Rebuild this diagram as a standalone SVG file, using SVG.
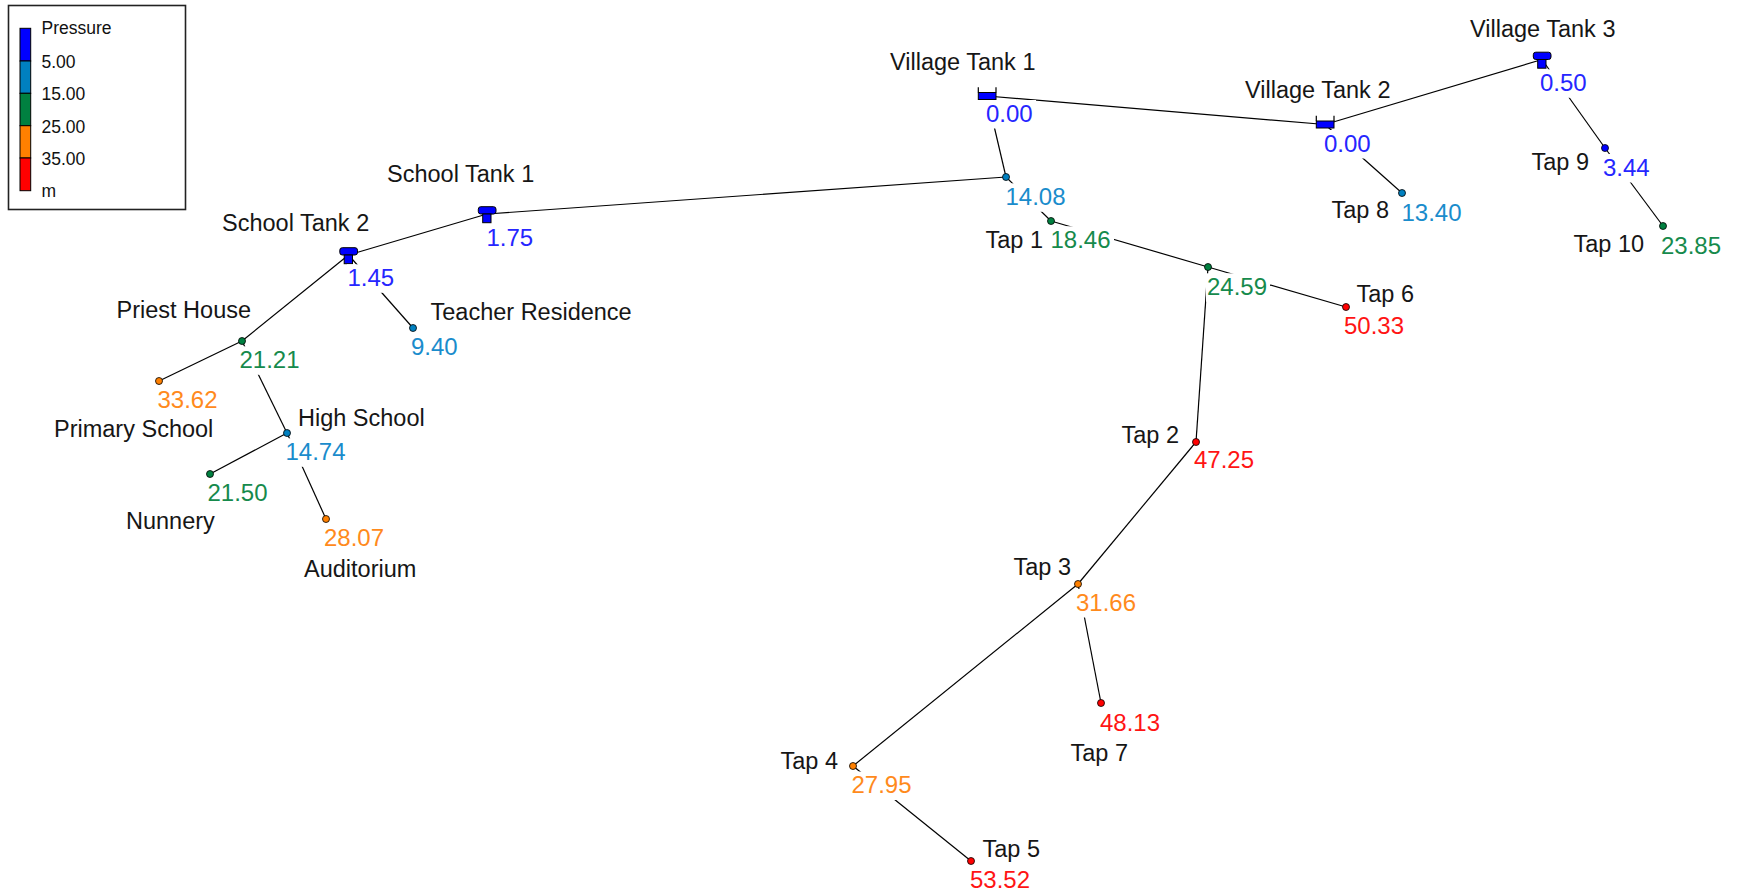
<svg xmlns="http://www.w3.org/2000/svg" xmlns:xlink="http://www.w3.org/1999/xlink" width="1738" height="895" viewBox="0 0 1738 895">
<style>
text{font-family:"Liberation Sans",Arial,sans-serif;}
.nm{font-size:23.5px;fill:#161616;}
.v{font-size:24px;}
.lg{font-size:17.5px;fill:#111;}
.bg{fill:#fff;}
.ln{stroke:#000;stroke-width:1.2;fill:none;}
.dot{stroke:#000;stroke-width:0.8;}
.cB{fill:#0000FF;} .cL{fill:#0080C0;} .cG{fill:#008040;} .cO{fill:#FF8000;} .cR{fill:#FF0000;}
.tB{fill:#2626FF;} .tL{fill:#1A8CCC;} .tG{fill:#168A4C;} .tO{fill:#FF8A1C;} .tR{fill:#FF1414;}
</style>
<defs>
<g id="tank">
<rect x="-8.7" y="-7.3" width="17.7" height="7.3" rx="2.5" fill="#0000FF" stroke="#000" stroke-width="1"/>
<rect x="-4.3" y="0" width="8.3" height="8.7" fill="#0000FF" stroke="#000" stroke-width="1"/>
</g>
<g id="res">
<rect x="-8.7" y="-3.5" width="17.7" height="7" fill="#0000FF" stroke="#000" stroke-width="1"/>
<path d="M-8.7,-8.7V-3.5M9,-8.7V-3.5" stroke="#000" stroke-width="1.2"/>
</g>
</defs>
<rect width="1738" height="895" fill="#fff"/>

<g id="legend">
<rect x="8.5" y="5.5" width="177" height="204" fill="#fff" stroke="#222" stroke-width="1.6"/>
<rect x="20" y="28.3" width="10.7" height="32.7" fill="#0000FF" stroke="#000" stroke-width="1"/>
<rect x="20" y="61" width="10.7" height="32.3" fill="#0080C0" stroke="#000" stroke-width="1"/>
<rect x="20" y="93.3" width="10.7" height="32.4" fill="#008040" stroke="#000" stroke-width="1"/>
<rect x="20" y="125.7" width="10.7" height="32.3" fill="#FF8000" stroke="#000" stroke-width="1"/>
<rect x="20" y="158" width="10.7" height="32.7" fill="#FF0000" stroke="#000" stroke-width="1"/>
<text class="lg" x="41.5" y="34">Pressure</text>
<text class="lg" x="41.5" y="68">5.00</text>
<text class="lg" x="41.5" y="100">15.00</text>
<text class="lg" x="41.5" y="133">25.00</text>
<text class="lg" x="41.5" y="165">35.00</text>
<text class="lg" x="41.5" y="197">m</text>
</g>

<g id="connectors">
<line class="ln" x1="987" y1="96" x2="1325" y2="124.5"/>
<line class="ln" x1="1325" y1="124.5" x2="1542" y2="59.5"/>
<line class="ln" x1="987" y1="96" x2="1006" y2="177"/>
<line class="ln" x1="487" y1="214" x2="1006" y2="177"/>
<line class="ln" x1="348.5" y1="255" x2="487" y2="214"/>
<line class="ln" x1="1006" y1="177" x2="1051" y2="221"/>
<line class="ln" x1="1051" y1="221" x2="1208" y2="267"/>
<line class="ln" x1="1208" y1="267" x2="1346" y2="307"/>
<line class="ln" x1="1208" y1="267" x2="1196" y2="442"/>
<line class="ln" x1="1196" y1="442" x2="1078" y2="584"/>
<line class="ln" x1="1078" y1="584" x2="1101" y2="703"/>
<line class="ln" x1="1078" y1="584" x2="853" y2="766"/>
<line class="ln" x1="853" y1="766" x2="971" y2="861"/>
<line class="ln" x1="1325" y1="124.5" x2="1402" y2="193"/>
<line class="ln" x1="1542" y1="59.5" x2="1605" y2="148"/>
<line class="ln" x1="1605" y1="148" x2="1663" y2="226"/>
<line class="ln" x1="348.5" y1="255" x2="242" y2="341"/>
<line class="ln" x1="348.5" y1="255" x2="413" y2="328"/>
<line class="ln" x1="242" y1="341" x2="159" y2="381"/>
<line class="ln" x1="242" y1="341" x2="287" y2="433"/>
<line class="ln" x1="287" y1="433" x2="210" y2="474"/>
<line class="ln" x1="287" y1="433" x2="326" y2="519"/>
</g>

<g id="village-tank-1">
<use xlink:href="#res" href="#res" x="987" y="96"/>
<text class="nm" x="890" y="70">Village Tank 1</text>
<rect class="bg" x="985" y="100" width="51" height="28.5"/>
<text class="v tB" x="986" y="121.7">0.00</text>
</g>
<g id="village-tank-2">
<use xlink:href="#res" href="#res" x="1325" y="124.5"/>
<text class="nm" x="1245" y="98">Village Tank 2</text>
<rect class="bg" x="1323" y="130" width="51" height="28.5"/>
<text class="v tB" x="1324" y="151.7">0.00</text>
</g>
<g id="village-tank-3">
<use xlink:href="#tank" href="#tank" x="1542" y="59.5"/>
<text class="nm" x="1470" y="36.7">Village Tank 3</text>
<rect class="bg" x="1539" y="69.3" width="51" height="28.5"/>
<text class="v tB" x="1540" y="91">0.50</text>
</g>
<g id="school-tank-1">
<use xlink:href="#tank" href="#tank" x="487" y="214"/>
<text class="nm" x="387" y="181.7">School Tank 1</text>
<rect class="bg" x="486" y="224" width="51" height="28.5"/>
<text class="v tB" x="486.5" y="245.7">1.75</text>
</g>
<g id="school-tank-2">
<use xlink:href="#tank" href="#tank" x="348.5" y="255"/>
<text class="nm" x="222" y="231">School Tank 2</text>
<rect class="bg" x="347" y="264.3" width="51" height="28.5"/>
<text class="v tB" x="347.5" y="286">1.45</text>
</g>
<g id="junction-1">
<circle class="dot cL" cx="1006" cy="177" r="3.5"/>
<rect class="bg" x="1004" y="183.3" width="64" height="28.5"/>
<text class="v tL" x="1005.5" y="205">14.08</text>
</g>
<g id="tap-1">
<circle class="dot cG" cx="1051" cy="221" r="3.5"/>
<text class="nm" x="985.5" y="248">Tap 1</text>
<rect class="bg" x="1050" y="226.3" width="64" height="28.5"/>
<text class="v tG" x="1050.5" y="248">18.46</text>
</g>
<g id="junction-2">
<circle class="dot cG" cx="1208" cy="267" r="3.5"/>
<rect class="bg" x="1206" y="273.3" width="64" height="28.5"/>
<text class="v tG" x="1207" y="295">24.59</text>
</g>
<g id="tap-6">
<circle class="dot cR" cx="1346" cy="307" r="3.5"/>
<text class="nm" x="1356.5" y="302">Tap 6</text>
<rect class="bg" x="1343" y="312.3" width="64" height="28.5"/>
<text class="v tR" x="1344" y="334">50.33</text>
</g>
<g id="tap-2">
<circle class="dot cR" cx="1196" cy="442" r="3.5"/>
<text class="nm" x="1121.5" y="443">Tap 2</text>
<rect class="bg" x="1193" y="446.3" width="64" height="28.5"/>
<text class="v tR" x="1194" y="468">47.25</text>
</g>
<g id="tap-3">
<circle class="dot cO" cx="1078" cy="584" r="3.5"/>
<text class="nm" x="1013.5" y="575">Tap 3</text>
<rect class="bg" x="1075" y="589" width="64" height="28.5"/>
<text class="v tO" x="1076" y="610.7">31.66</text>
</g>
<g id="tap-7">
<circle class="dot cR" cx="1101" cy="703" r="3.5"/>
<rect class="bg" x="1099" y="709" width="64" height="28.5"/>
<text class="v tR" x="1100" y="730.7">48.13</text>
<text class="nm" x="1070.5" y="761">Tap 7</text>
</g>
<g id="tap-4">
<circle class="dot cO" cx="853" cy="766" r="3.5"/>
<text class="nm" x="780.5" y="769">Tap 4</text>
<rect class="bg" x="850.5" y="771.5" width="64" height="28.5"/>
<text class="v tO" x="851.5" y="793.3">27.95</text>
</g>
<g id="tap-5">
<circle class="dot cR" cx="971" cy="861" r="3.5"/>
<text class="nm" x="982.5" y="857">Tap 5</text>
<text class="v tR" x="970" y="887.7">53.52</text>
</g>
<g id="tap-8">
<circle class="dot cL" cx="1402" cy="193" r="3.5"/>
<text class="nm" x="1331.5" y="218">Tap 8</text>
<rect class="bg" x="1400" y="199" width="64" height="28.5"/>
<text class="v tL" x="1401.5" y="220.7">13.40</text>
</g>
<g id="tap-9">
<circle class="dot cB" cx="1605" cy="148" r="3.5"/>
<text class="nm" x="1531.5" y="170">Tap 9</text>
<rect class="bg" x="1602" y="154" width="51" height="28.5"/>
<text class="v tB" x="1603" y="175.7">3.44</text>
</g>
<g id="tap-10">
<circle class="dot cG" cx="1663" cy="226" r="3.5"/>
<text class="nm" x="1573.5" y="252">Tap 10</text>
<rect class="bg" x="1660" y="232.3" width="64" height="28.5"/>
<text class="v tG" x="1661" y="254">23.85</text>
</g>
<g id="priest-house">
<circle class="dot cG" cx="242" cy="341" r="3.5"/>
<text class="nm" x="116.5" y="318.3">Priest House</text>
<rect class="bg" x="238" y="346.3" width="64" height="28.5"/>
<text class="v tG" x="239.5" y="368">21.21</text>
</g>
<g id="primary-school">
<circle class="dot cO" cx="159" cy="381" r="3.5"/>
<rect class="bg" x="156" y="386.3" width="64" height="28.5"/>
<text class="v tO" x="157.5" y="408">33.62</text>
<text class="nm" x="54" y="437">Primary School</text>
</g>
<g id="high-school">
<circle class="dot cL" cx="287" cy="433" r="3.5"/>
<text class="nm" x="298" y="425.5">High School</text>
<rect class="bg" x="284" y="438.3" width="64" height="28.5"/>
<text class="v tL" x="285.5" y="460">14.74</text>
</g>
<g id="nunnery">
<circle class="dot cG" cx="210" cy="474" r="3.5"/>
<rect class="bg" x="206" y="479.3" width="64" height="28.5"/>
<text class="v tG" x="207.5" y="501">21.50</text>
<text class="nm" x="126" y="529">Nunnery</text>
</g>
<g id="auditorium">
<circle class="dot cO" cx="326" cy="519" r="3.5"/>
<rect class="bg" x="323" y="524.3" width="64" height="28.5"/>
<text class="v tO" x="324" y="546">28.07</text>
<text class="nm" x="304" y="577">Auditorium</text>
</g>
<g id="teacher-residence">
<circle class="dot cL" cx="413" cy="328" r="3.5"/>
<text class="nm" x="430.5" y="320">Teacher Residence</text>
<rect class="bg" x="410" y="333.3" width="51" height="28.5"/>
<text class="v tL" x="411" y="355">9.40</text>
</g>
</svg>
